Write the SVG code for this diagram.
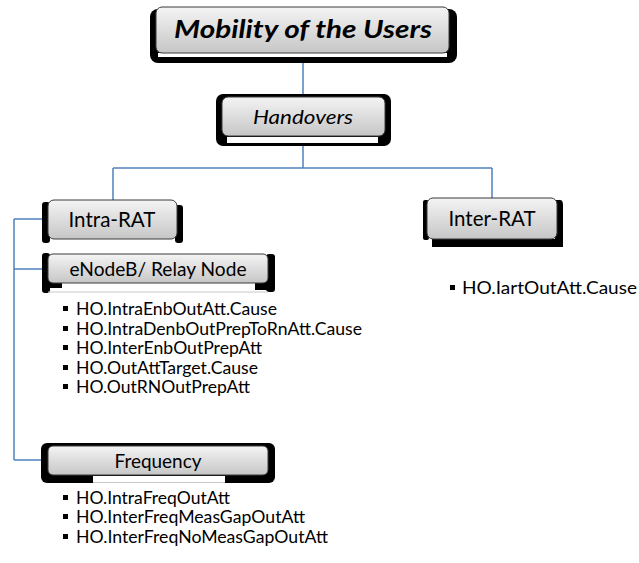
<svg xmlns="http://www.w3.org/2000/svg" width="639" height="563" viewBox="0 0 639 563">
<defs>
<linearGradient id="g" x1="0" y1="0" x2="0" y2="1">
<stop offset="0" stop-color="#f4f4f4"/>
<stop offset="1" stop-color="#c6c6c6"/>
</linearGradient>
<style>
.box{fill:url(#g);stroke:#3a3a3a;stroke-width:1}
.sh{fill:#000}
.wh{fill:#fff}
.t{font-family:Lato,"Liberation Sans",sans-serif;fill:#000;text-anchor:middle}
.li{font-family:Lato,"Liberation Sans",sans-serif;font-size:16.5px;fill:#000}
.b{fill:#000}
.c{fill:none;stroke:#4f81bd;stroke-width:1.5}
</style>
</defs>
<rect width="639" height="563" fill="#fff"/>
<g id="connectors">
<path class="c" d="M303,52V97M303,136V168M113,168H492M113,168V200M492,168V198"/>
<path class="c" d="M14,219V460M14,219H48M14,269H48M14,460H48"/>
</g>
<g id="title">
<rect class="sh" x="150" y="9" width="307" height="54" rx="8"/>
<rect class="wh" x="158" y="53" width="289" height="4"/>
<rect class="box" x="156" y="7" width="293" height="46" rx="6"/>
<text class="t" x="303" y="38" font-size="25" font-weight="bold" font-style="italic" textLength="258" lengthAdjust="spacingAndGlyphs">Mobility of the Users</text>
</g>
<g id="handovers">
<rect class="sh" x="216" y="94" width="175" height="52" rx="7"/>
<rect class="wh" x="227" y="137" width="151" height="6"/>
<rect class="box" x="222" y="97" width="163" height="39" rx="6"/>
<text class="t" x="303" y="124" font-size="20" font-style="italic" textLength="100" lengthAdjust="spacingAndGlyphs">Handovers</text>
</g>
<g id="intra-rat">
<rect class="sh" x="42" y="202" width="8" height="41" rx="3"/>
<rect class="sh" x="175" y="205" width="8" height="38" rx="3"/>
<rect class="box" x="48" y="200" width="129" height="39" rx="6"/>
<text class="t" x="112" y="227" font-size="21" textLength="87" lengthAdjust="spacingAndGlyphs">Intra-RAT</text>
</g>
<g id="inter-rat">
<rect class="sh" x="423" y="200" width="6" height="40" rx="2"/>
<path class="sh" d="M555,200H560Q563,200 563,205V247H432V239H555Z"/>
<rect class="box" x="427" y="198" width="130" height="41" rx="6"/>
<text class="t" x="492" y="226" font-size="21" textLength="87" lengthAdjust="spacingAndGlyphs">Inter-RAT</text>
</g>
<g id="enodeb">
<rect class="sh" x="42" y="253" width="8" height="40" rx="3"/>
<rect class="sh" x="266" y="254" width="9" height="38" rx="3"/>
<line x1="48" y1="292" x2="268" y2="292" stroke="#c8c8c8" stroke-width="1"/>
<rect class="sh" x="48" y="280" width="14" height="8"/>
<rect class="sh" x="255" y="280" width="13" height="10"/>
<rect class="box" x="48" y="254" width="220" height="29" rx="5"/>
<text class="t" x="158" y="276" font-size="19" textLength="177" lengthAdjust="spacingAndGlyphs">eNodeB/ Relay Node</text>
</g>
<g id="frequency">
<rect class="sh" x="41" y="443" width="234" height="40" rx="6"/>
<rect class="wh" x="93" y="476" width="132" height="8"/>
<line x1="93" y1="482.5" x2="225" y2="482.5" stroke="#c8c8c8" stroke-width="1"/>
<rect class="box" x="48" y="446" width="220" height="29" rx="5"/>
<text class="t" x="158" y="468" font-size="19" textLength="87" lengthAdjust="spacingAndGlyphs">Frequency</text>
</g>
<g id="intra-list">
<rect class="b" x="63" y="306" width="5" height="5"/><text class="li" x="76" y="315" textLength="201" lengthAdjust="spacingAndGlyphs">HO.IntraEnbOutAtt.Cause</text>
<rect class="b" x="63" y="326" width="5" height="5"/><text class="li" x="76" y="335" textLength="286" lengthAdjust="spacingAndGlyphs">HO.IntraDenbOutPrepToRnAtt.Cause</text>
<rect class="b" x="63" y="345" width="5" height="5"/><text class="li" x="76" y="354" textLength="186" lengthAdjust="spacingAndGlyphs">HO.InterEnbOutPrepAtt</text>
<rect class="b" x="63" y="365" width="5" height="5"/><text class="li" x="76" y="374" textLength="182" lengthAdjust="spacingAndGlyphs">HO.OutAttTarget.Cause</text>
<rect class="b" x="63" y="384" width="5" height="5"/><text class="li" x="76" y="393" textLength="174" lengthAdjust="spacingAndGlyphs">HO.OutRNOutPrepAtt</text>
</g>
<g id="freq-list">
<rect class="b" x="63" y="495" width="5" height="5"/><text class="li" x="76" y="504" textLength="154" lengthAdjust="spacingAndGlyphs">HO.IntraFreqOutAtt</text>
<rect class="b" x="63" y="514" width="5" height="5"/><text class="li" x="76" y="523" textLength="229" lengthAdjust="spacingAndGlyphs">HO.InterFreqMeasGapOutAtt</text>
<rect class="b" x="63" y="534" width="5" height="5"/><text class="li" x="76" y="543" textLength="252" lengthAdjust="spacingAndGlyphs">HO.InterFreqNoMeasGapOutAtt</text>
</g>
<g id="inter-list">
<rect class="b" x="450" y="285" width="5" height="5"/><text class="li" x="462" y="294" textLength="175" lengthAdjust="spacingAndGlyphs">HO.IartOutAtt.Cause</text>
</g>
</svg>
